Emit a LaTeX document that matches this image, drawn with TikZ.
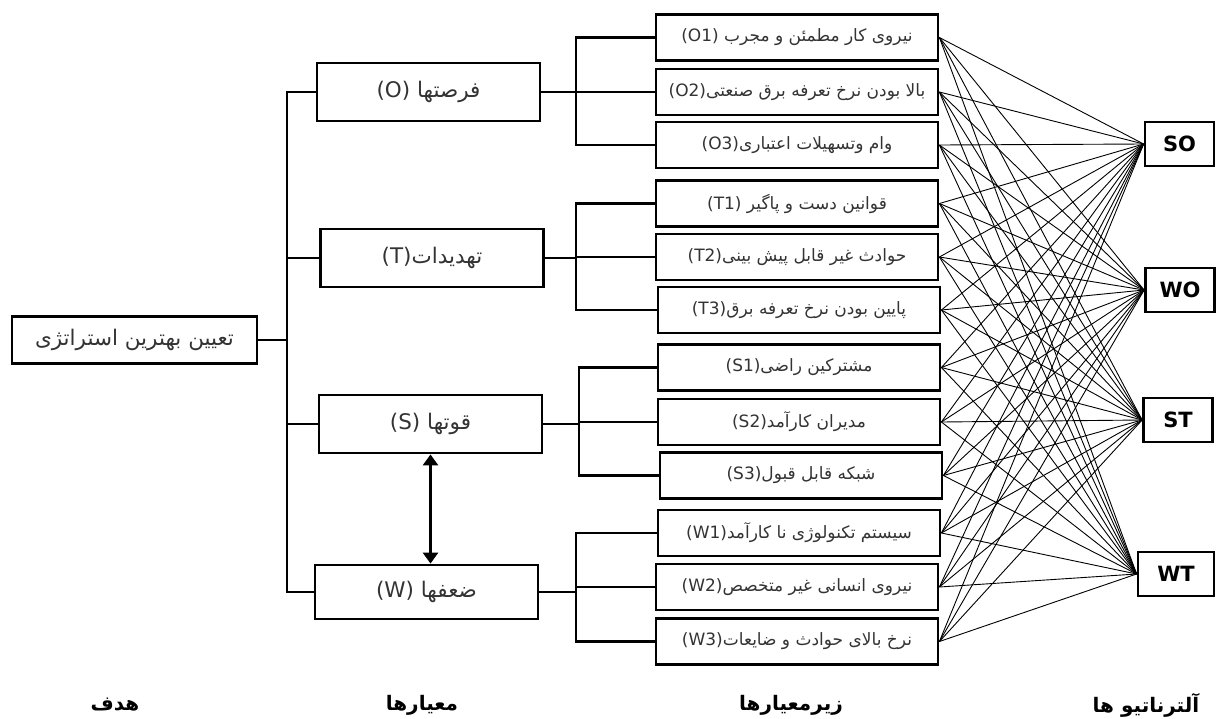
\documentclass[tikz,border=0pt]{standalone}
\usepackage{fontspec}
\setmainfont{DejaVu Sans}
\newfontfamily\arfont[Script=Arabic]{DejaVu Sans}
\TeXXeTstate=1
\usetikzlibrary{arrows.meta}
\newcommand\fa[1]{{\arfont\beginR #1\endR}}
\begin{document}
\begin{tikzpicture}[x=1pt,y=-1pt,
  box/.style={draw, line width=2.8pt, inner sep=0pt, text=black!80},
  goalbox/.style={box, minimum width=245pt, minimum height=47pt, font=\fontsize{21.5}{24}\selectfont},
  critbox/.style={box, minimum width=223pt, minimum height=58pt, font=\fontsize{21.5}{24}\selectfont},
  subbox/.style={box, minimum width=282pt, minimum height=46pt, font=\fontsize{17}{20}\selectfont},
  altbox/.style={box, minimum width=69pt, minimum height=44pt, font=\bfseries\fontsize{21}{24}\selectfont, text=black},
  tree/.style={draw, line width=2.3pt},
  thin tree/.style={draw, line width=1.6pt},
  link/.style={draw, line width=0.9pt},
  dbl/.style={draw, line width=3.2pt, {Triangle[width=15pt,length=11pt]}-{Triangle[width=15pt,length=11pt]}},
  lab/.style={font=\bfseries\fontsize{20}{23}\selectfont}]
\useasboundingbox (0,0) rectangle (1218,718);
% goal
\node[goalbox] (goal) at (134.5,340) {\fa{تعیین بهترین استراتژی}};
% criteria
\node[critbox] (O) at (428.5,92) {(O) \fa{فرصتها}};
\node[critbox] (T) at (432,258) {(T)\fa{تهدیدات}};
\node[critbox] (S) at (430.5,424) {(S) \fa{قوتها}};
\node[critbox, minimum height=54pt] (W) at (426.5,592) {(W) \fa{ضعفها}};
% sub-criteria
\node[subbox] (O1) at (797,37.5) {(O1) \fa{نیروی کار مطمئن و مجرب}};
\node[subbox] (O2) at (797,92) {(O2)\fa{بالا بودن نرخ تعرفه برق صنعتی}};
\node[subbox] (O3) at (797,145) {(O3)\fa{وام وتسهیلات اعتباری}};
\node[subbox] (T1) at (797,203.5) {(T1) \fa{قوانین  دست و پاگیر}};
\node[subbox] (T2) at (797,257) {(T2)\fa{حوادث غیر قابل پیش بینی}};
\node[subbox] (T3) at (799,310) {(T3)\fa{پایین بودن نرخ تعرفه برق}};
\node[subbox] (S1) at (799,367.5) {(S1)\fa{مشترکین راضی}};
\node[subbox] (S2) at (799,422) {(S2)\fa{مدیران کارآمد}};
\node[subbox] (S3) at (801,475.5) {(S3)\fa{شبکه قابل قبول}};
\node[subbox] (W1) at (799,533) {(W1)\fa{سیستم تکنولوژی نا کارآمد}};
\node[subbox] (W2) at (797,587) {(W2)\fa{نیروی انسانی غیر متخصص}};
\node[subbox] (W3) at (797,641.5) {(W3)\fa{نرخ بالای حوادث و ضایعات}};
% alternatives
\node[altbox] (SO) at (1179.5,144) {SO};
\node[altbox] (WO) at (1180,290) {WO};
\node[altbox] (ST) at (1178,420) {ST};
\node[altbox, minimum width=76pt] (WT) at (1176,574) {WT};
% tree trunk
\coordinate (tk) at (287,340);
\draw[tree] (goal.east) -- (tk);
\draw[tree] (O.west) -- (O.west -| tk) -- (W.west -| tk) -- (W.west);
\draw[tree] (T.west) -- (T.west -| tk);
\draw[tree] (S.west) -- (S.west -| tk);
% brackets
\foreach \c/\a/\b/\m/\xx in {O/O1/O3/O2/576, T/T1/T3/T2/576, S/S1/S3/S2/579, W/W1/W3/W2/576}{
  \coordinate (bx) at (\xx,0);
  \draw[thin tree] (\c.east) -- (\c.east -| bx);
  \draw[tree] (\a.west) -- (\a.west -| bx) -- (\b.west -| bx) -- (\b.west);
  \draw[tree] (\m.west) -- (\m.west -| bx);
}
% S <-> W
\draw[dbl] (S.south) -- (S.south |- W.north);
% links
\foreach \s in {O1,O2,O3,T1,T2,T3,S1,S2,S3,W1,W2,W3}{
  \foreach \a in {SO,WO,ST,WT}{
    \draw[link] (\s.east) -- (\a.west);
  }
}
% bottom labels
\node[lab] (l1) at (115,705) {\fa{هدف}};
\node[lab] (l2) at (422,705) {\fa{معیارها}};
\node[lab] (l3) at (791,705) {\fa{زیرمعیارها}};
\node[lab] (l4) at (1146,705) {\fa{آلترناتیو ها}};
\end{tikzpicture}
\end{document}
